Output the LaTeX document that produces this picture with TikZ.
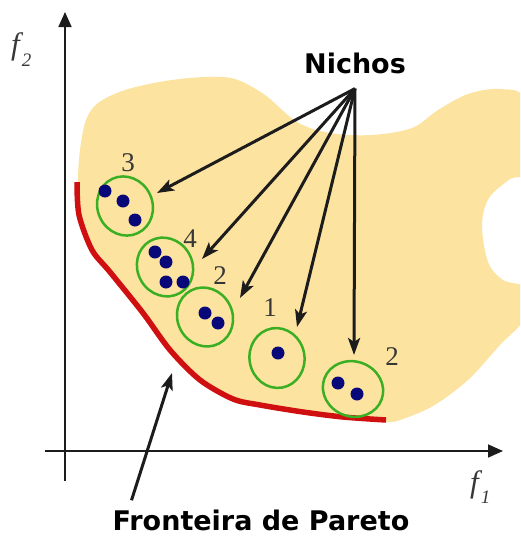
\documentclass[tikz,border=0pt]{standalone}
\usepackage{fontspec}
\setmainfont{Liberation Serif}
\newfontfamily\tagfont{DejaVu Sans}
\usetikzlibrary{arrows.meta,calc,shapes.geometric}
\definecolor{RegionClr}{RGB}{253,227,160}
\definecolor{FrontClr}{RGB}{208,16,16}
\definecolor{NicheClr}{RGB}{58,175,36}
\definecolor{DotClr}{RGB}{8,8,120}
\definecolor{NumClr}{RGB}{55,55,55}
\definecolor{ArrowClr}{RGB}{28,28,28}

\tikzset{
  niche/.style={ellipse,draw=NicheClr,line width=2.5pt,inner sep=0pt,
    minimum width=60pt,minimum height=55pt},
  pointer/.style={draw=ArrowClr,line width=3pt,
    -{Stealth[length=17pt,width=12pt,inset=4pt]}},
  axis/.style={draw=ArrowClr,line width=1.7pt,-{Triangle[length=15pt,width=13pt]}},
  count/.style={font=\fontsize{27pt}{30pt}\selectfont,text=NumClr,inner sep=0pt,anchor=base},
  tag/.style={font=\tagfont\bfseries\fontsize{27pt}{32pt}\selectfont,inner sep=0pt,anchor=base},
  axlabel/.style={font=\itshape\fontsize{31pt}{34pt}\selectfont,text=NumClr,inner sep=0pt,anchor=base west}
}

\begin{document}
\begin{tikzpicture}[x=1pt,y=-1pt]
\useasboundingbox (0,0) rectangle (520,536);

% feasible region
\begin{scope}
\clip (0,0) rectangle (520,536);
\fill[RegionClr] plot[smooth cycle,tension=0.55] coordinates {
  (78,183) (80,150) (86,120) (98,103) (125,90) (165,81) (205,77) (235,79)
  (265,95) (297,122) (330,133) (372,135) (412,128) (438,110) (468,94)
  (500,89) (525,100) (525,170) (510,179) (489,198) (482,225) (488,262)
  (503,280) (525,288) (525,318) (500,345) (468,380) (433,406) (400,420)
  (386,422) (343,419) (303,414) (260,407) (232,401) (200,382) (170,352)
  (143,315) (110,272) (93,250) (81,215)};
\end{scope}

% Pareto front
\draw[FrontClr,line width=5.5pt] plot[smooth,tension=0.5] coordinates {
  (77,182) (79,215) (92,250) (110,272) (143,313) (170,350) (200,380)
  (233,399) (260,405) (303,412) (343,417) (386,420)};

% niches
\node[niche,rotate=-65] (n3) at (125,206) {};
\node[niche,rotate=-60] (n4) at (165,267) {};
\node[niche,rotate=-62] (n2a) at (205,317) {};
\node[niche,rotate=-80] (n1) at (277,358) {};
\node[niche,rotate=-20,minimum width=61pt,minimum height=55pt] (n2b) at (353,389) {};

\foreach \p in {(105,191),(123,201),(135,220),
                (155,252),(166,262),(166,282),(183,282),
                (205,313),(218,323),(278,353),(338,383),(357,394)}
  \fill[DotClr] \p circle[radius=6.5pt];

\node[count] (k3) at (128,171) {3};
\node[count] (k4) at (190,247) {4};
\node[count] (k2a) at (220,284) {2};
\node[count] (k1) at (270,316) {1};
\node[count] (k2b) at (392,365) {2};

% labels and pointers
\node[tag] (nichos) at (355,73) {Nichos};
\node[tag] (pareto) at (261,530) {Fronteira de Pareto};

\coordinate (apex) at ([yshift=-15pt]nichos.south);
\coordinate (t3) at (157,193);
\coordinate (t4) at (202,259);
\coordinate (t2a) at (240,298);
\coordinate (t1) at (297,327);
\coordinate (t2b) at (354,355);
\coordinate (pf) at (172,373);

\foreach \t in {t3,t4,t2a,t1,t2b}
  \draw[pointer] (apex) -- (\t);
\draw[pointer] ([xshift=19pt,yshift=9pt]pareto.north west) -- (pf);

% axes
\coordinate (ybot) at (65,481);
\coordinate (ytop) at (65,12);
\coordinate (xleft) at (45,451);
\coordinate (xright) at (503,451);
\draw[axis] (ybot) -- (ytop);
\draw[axis] (xleft) -- (xright);

\node[axlabel] (f2) at (11,54) {f\kern2pt\raisebox{-12pt}{\fontsize{19pt}{19pt}\selectfont 2}};
\node[axlabel] (f1) at (470,492) {f\kern2pt\raisebox{-11pt}{\fontsize{19pt}{19pt}\selectfont 1}};

\end{tikzpicture}
\end{document}
